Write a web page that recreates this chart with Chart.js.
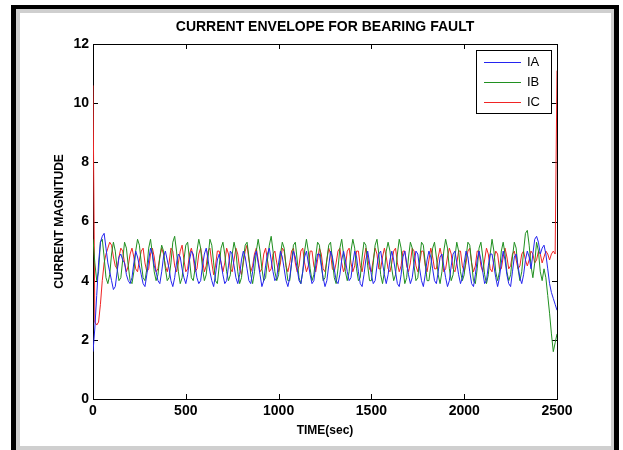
<!DOCTYPE html>
<html>
<head>
<meta charset="utf-8">
<script src="https://cdn.jsdelivr.net/npm/chart.js@4.4.1/dist/chart.umd.min.js"></script>
<style>
  html, body { margin: 0; padding: 0; background: #fff; }
  canvas { display: block; }
</style>
</head>
<body>
<canvas id="envolventeChart" width="623" height="450"></canvas>
<script>
// muestras cada 10 s, de 0 a 2500 s
const timeSec = Array.from({ length: 251 }, (_, i) => i * 10);

const xTickVals = [0, 500, 1000, 1500, 2000, 2500];
const yTickVals = [0, 2, 4, 6, 8, 10, 12];

const chartTitle = "CURRENT ENVELOPE FOR BEARING FAULT";
const seriesNames = ["IA", "IB", "IC"];
const seriesColors = ["#2424f0", "#209020", "#f02424"];

const ia = [
  1.6, 2.4, 3.5, 4.6, 5.3, 5.5, 5.6, 5.1, 4.6, 4.3,
  4.0, 3.7, 3.8, 4.3, 4.8, 4.9, 4.7, 4.6, 4.2, 4.0,
  3.9, 4.1, 4.6, 5.0, 4.8, 4.5, 4.2, 3.9, 3.8, 4.2,
  4.7, 5.1, 4.9, 4.5, 4.3, 4.0, 3.9, 4.3, 4.8, 5.0,
  4.7, 4.4, 4.0, 3.8, 4.1, 4.6, 4.9, 4.8, 4.4, 4.1,
  3.9, 4.2, 4.7, 5.0, 4.9, 4.5, 4.1, 3.9, 4.0, 4.5,
  4.9, 5.1, 4.7, 4.3, 4.0, 3.8, 4.2, 4.7, 4.9, 4.6,
  4.2, 3.9, 4.0, 4.5, 5.0, 4.9, 4.5, 4.1, 3.9, 4.2,
  4.7, 5.0, 4.8, 4.4, 4.0, 3.9, 4.3, 4.8, 5.0, 4.6,
  4.2, 3.8, 4.0, 4.5, 4.9, 5.1, 4.7, 4.3, 4.0, 4.1,
  4.6, 5.0, 4.8, 4.4, 4.0, 3.8, 4.1, 4.6, 5.0, 4.8,
  4.4, 4.0, 3.9, 4.3, 4.8, 5.0, 4.6, 4.2, 3.9, 4.0,
  4.5, 4.9, 4.9, 4.5, 4.1, 3.8, 4.0, 4.5, 5.0, 4.8,
  4.4, 4.0, 3.9, 4.2, 4.7, 5.0, 4.7, 4.3, 4.0, 4.1,
  4.6, 5.0, 4.8, 4.3, 3.9, 3.8, 4.2, 4.7, 5.0, 4.6,
  4.2, 3.9, 4.0, 4.5, 4.9, 5.0, 4.6, 4.2, 3.9, 4.2,
  4.7, 5.0, 4.7, 4.3, 3.9, 3.8, 4.2, 4.8, 5.0, 4.6,
  4.2, 3.9, 4.1, 4.6, 5.0, 4.9, 4.4, 4.0, 3.8, 4.2,
  4.7, 5.0, 4.8, 4.4, 4.0, 3.9, 4.3, 4.8, 4.9, 4.5,
  4.1, 3.8, 4.0, 4.5, 4.9, 5.0, 4.6, 4.2, 3.9, 4.1,
  4.6, 5.0, 4.8, 4.3, 3.9, 3.8, 4.2, 4.7, 5.0, 4.7,
  4.3, 3.9, 4.0, 4.5, 4.9, 4.9, 4.5, 4.1, 3.8, 4.1,
  4.6, 5.0, 4.7, 4.2, 3.9, 3.8, 4.3, 4.8, 4.9, 4.5,
  4.1, 3.9, 4.2, 4.7, 5.0, 4.8, 4.4, 4.9, 5.4, 5.5,
  5.3, 4.9, 5.1, 5.2, 4.9, 4.4, 3.9, 3.6, 3.4, 3.2,
  3.0
];

const ib = [
  5.4, 4.6, 4.0, 4.3, 5.3, 5.4, 4.8, 4.1, 3.9, 4.2,
  4.9, 5.3, 5.0, 4.4, 4.0, 4.1, 4.7, 5.3, 5.1, 4.5,
  4.0, 3.9, 4.3, 5.0, 5.4, 5.2, 4.6, 4.1, 4.0, 4.4,
  5.1, 5.4, 4.9, 4.3, 4.0, 4.2, 4.8, 5.2, 5.0, 4.4,
  4.0, 4.1, 4.6, 5.3, 5.5, 5.0, 4.3, 3.9, 4.1, 4.7,
  5.2, 5.3, 4.7, 4.1, 4.0, 4.4, 5.0, 5.4, 5.1, 4.4,
  4.0, 4.2, 4.8, 5.4, 5.2, 4.6, 4.0, 3.9, 4.5, 5.1,
  5.3, 4.9, 4.3, 4.0, 4.2, 4.9, 5.3, 5.0, 4.3, 3.9,
  4.1, 4.7, 5.2, 5.3, 4.8, 4.2, 3.9, 4.3, 5.0, 5.4,
  5.0, 4.4, 4.0, 4.1, 4.7, 5.2, 5.5, 5.0, 4.3, 4.0,
  4.2, 4.9, 5.3, 5.1, 4.5, 4.0, 4.0, 4.6, 5.2, 5.3,
  4.7, 4.1, 3.9, 4.3, 5.0, 5.4, 5.0, 4.4, 4.0, 4.2,
  4.8, 5.3, 5.2, 4.6, 4.0, 4.1, 4.7, 5.2, 5.3, 4.7,
  4.1, 3.9, 4.4, 5.1, 5.4, 4.9, 4.3, 4.0, 4.3, 5.0,
  5.4, 5.1, 4.4, 4.0, 4.1, 4.8, 5.3, 5.2, 4.5, 4.0,
  4.0, 4.6, 5.2, 5.4, 4.9, 4.2, 3.9, 4.3, 5.0, 5.3,
  5.0, 4.4, 4.0, 4.2, 4.9, 5.4, 5.1, 4.4, 3.9, 4.1,
  4.8, 5.3, 5.1, 4.5, 4.0, 4.1, 4.7, 5.3, 5.2, 4.6,
  4.0, 4.0, 4.5, 5.1, 5.3, 4.8, 4.2, 3.9, 4.3, 5.0,
  5.4, 5.1, 4.4, 4.0, 4.2, 4.8, 5.3, 5.0, 4.3, 4.0,
  4.2, 4.8, 5.3, 5.2, 4.6, 4.0, 3.9, 4.4, 5.1, 5.3,
  4.8, 4.2, 3.9, 4.2, 4.9, 5.4, 5.0, 4.3, 4.0, 4.3,
  5.0, 5.3, 4.9, 4.3, 4.0, 4.2, 4.8, 5.3, 5.1, 4.4,
  4.0, 4.3, 5.0, 5.6, 5.7, 5.2, 4.5, 4.1, 4.6, 5.3,
  5.0, 4.3, 4.0, 4.4, 4.1, 3.5, 2.9, 2.2, 1.6, 1.9,
  2.2
];

const ic = [
  10.6, 2.6, 2.5, 2.6, 3.2, 4.0, 4.6, 4.9, 5.1, 5.3,
  5.2, 4.8, 4.5, 4.4, 4.8, 5.1, 5.0, 4.6, 4.3, 4.5,
  4.9, 5.1, 4.8, 4.4, 4.3, 4.7, 5.0, 5.1, 4.6, 4.3,
  4.4, 4.9, 5.1, 4.8, 4.3, 4.4, 4.8, 5.1, 4.9, 4.5,
  4.3, 4.6, 5.1, 5.0, 4.5, 4.3, 4.6, 5.0, 5.2, 4.7,
  4.3, 4.4, 4.9, 5.1, 4.8, 4.3, 4.4, 4.9, 5.1, 4.7,
  4.3, 4.5, 5.0, 5.1, 4.6, 4.2, 4.5, 5.0, 5.0, 4.6,
  4.3, 4.6, 5.1, 4.9, 4.4, 4.3, 4.7, 5.1, 4.9, 4.4,
  4.2, 4.6, 5.0, 5.2, 4.7, 4.3, 4.5, 4.9, 5.1, 4.7,
  4.3, 4.4, 4.9, 5.1, 4.7, 4.3, 4.4, 4.9, 5.0, 4.6,
  4.3, 4.6, 5.1, 5.0, 4.5, 4.3, 4.6, 5.0, 5.1, 4.6,
  4.3, 4.5, 5.0, 5.1, 4.6, 4.3, 4.5, 5.0, 5.0, 4.5,
  4.3, 4.7, 5.1, 4.9, 4.4, 4.3, 4.7, 5.1, 4.9, 4.4,
  4.3, 4.6, 5.0, 5.1, 4.6, 4.3, 4.5, 5.0, 5.1, 4.6,
  4.3, 4.5, 5.0, 5.0, 4.5, 4.3, 4.7, 5.1, 4.8, 4.4,
  4.3, 4.7, 5.1, 4.9, 4.4, 4.4, 4.8, 5.1, 4.8, 4.4,
  4.3, 4.6, 5.0, 5.1, 4.6, 4.3, 4.5, 5.0, 5.0, 4.5,
  4.3, 4.6, 5.1, 5.0, 4.5, 4.3, 4.6, 5.0, 5.0, 4.5,
  4.3, 4.7, 5.1, 4.8, 4.4, 4.4, 4.8, 5.1, 4.8, 4.3,
  4.4, 4.8, 5.1, 4.9, 4.4, 4.3, 4.6, 5.0, 5.0, 4.5,
  4.3, 4.6, 5.0, 5.1, 4.6, 4.3, 4.5, 5.0, 5.0, 4.5,
  4.3, 4.7, 5.1, 4.9, 4.4, 4.3, 4.7, 5.0, 4.9, 4.4,
  4.4, 4.8, 5.1, 4.8, 4.4, 4.5, 4.9, 5.0, 4.7, 4.4,
  4.5, 4.9, 5.0, 4.7, 4.5, 4.7, 5.0, 4.9, 4.6, 4.7,
  5.0, 4.9, 4.6, 4.8, 5.0, 4.9, 4.7, 4.9, 5.0, 4.9,
  11.1
];

const FONT = "'Liberation Sans', Arial, sans-serif";

// Marco exterior, titulo, caja de ejes con marcas hacia adentro y leyenda
const marcoPlugin = {
  id: "marco",
  beforeDraw(chart) {
    const ctx = chart.ctx;
    const { left, right } = chart.chartArea;
    ctx.save();
    ctx.fillStyle = "#fff";
    ctx.fillRect(0, 0, chart.width, chart.height);
    ctx.fillStyle = "#000";
    ctx.fillRect(11, 5, 608, 445);
    ctx.fillStyle = "#cfcfcf";
    ctx.fillRect(16, 9, 598, 441);
    ctx.fillStyle = "#fff";
    ctx.fillRect(20, 13, 591, 433);
    // titulo centrado sobre los ejes
    ctx.fillStyle = "#000";
    ctx.font = "bold 14px " + FONT;
    ctx.textAlign = "center";
    ctx.textBaseline = "middle";
    ctx.fillText(chartTitle, (left + right) / 2, 27);
    ctx.restore();
  },
  beforeDatasetsDraw(chart) {
    const ctx = chart.ctx;
    const { left, right, top, bottom } = chart.chartArea;
    const sx = chart.scales.x, sy = chart.scales.y;
    ctx.save();
    ctx.strokeStyle = "#000";
    ctx.lineWidth = 1;
    ctx.strokeRect(left + 0.5, top + 0.5, right - left, bottom - top);
    ctx.beginPath();
    xTickVals.forEach(v => {
      const x = Math.round(sx.getPixelForValue(v)) + 0.5;
      ctx.moveTo(x, bottom); ctx.lineTo(x, bottom - 5);
      ctx.moveTo(x, top); ctx.lineTo(x, top + 5);
    });
    yTickVals.forEach(v => {
      const y = Math.round(sy.getPixelForValue(v)) + 0.5;
      ctx.moveTo(left, y); ctx.lineTo(left + 5, y);
      ctx.moveTo(right, y); ctx.lineTo(right - 5, y);
    });
    ctx.stroke();
    ctx.restore();
  },
  afterDatasetsDraw(chart) {
    const ctx = chart.ctx;
    const bx = 476, by = 50, bw = 75, bh = 63;
    ctx.save();
    ctx.fillStyle = "#fff";
    ctx.fillRect(bx, by, bw, bh);
    ctx.strokeStyle = "#000";
    ctx.lineWidth = 1;
    ctx.strokeRect(bx + 0.5, by + 0.5, bw, bh);
    ctx.font = "13px " + FONT;
    ctx.textBaseline = "middle";
    chart.data.datasets.forEach((ds, i) => {
      const y = by + 12.5 + i * 20;
      ctx.strokeStyle = ds.borderColor;
      ctx.beginPath();
      ctx.moveTo(484, y); ctx.lineTo(521, y);
      ctx.stroke();
      ctx.fillStyle = "#000";
      ctx.fillText(ds.label, 527, y);
    });
    ctx.restore();
  }
};

const aPuntos = arr => arr.map((v, i) => ({ x: timeSec[i], y: v }));

new Chart(document.getElementById("envolventeChart").getContext("2d"), {
  type: "line",
  data: {
    datasets: [ia, ib, ic].map((arr, i) => ({
      label: seriesNames[i],
      data: aPuntos(arr),
      borderColor: seriesColors[i],
      borderWidth: 1,
      pointRadius: 0,
      tension: 0,
      fill: false
    }))
  },
  options: {
    responsive: false,
    animation: false,
    events: [],
    layout: { padding: { left: 49, right: 66, top: 44, bottom: 11 } },
    plugins: {
      legend: { display: false },
      tooltip: { enabled: false },
      title: { display: false }
    },
    scales: {
      x: {
        type: "linear",
        min: 0,
        max: 2500,
        grid: { display: false, drawTicks: false },
        border: { display: false },
        afterBuildTicks: s => { s.ticks = xTickVals.map(v => ({ value: v })); },
        afterFit: s => { s.height = 40; },
        ticks: {
          color: "#000",
          maxRotation: 0,
          autoSkip: false,
          padding: 4,
          callback: v => String(v),
          font: { family: FONT, size: 14, weight: "bold" }
        },
        title: {
          display: true,
          text: "TIME(sec)",
          color: "#000",
          font: { family: FONT, size: 12, weight: "bold" },
          padding: { top: 0, bottom: 1 }
        }
      },
      y: {
        min: 0,
        max: 12,
        grid: { display: false, drawTicks: false },
        border: { display: false },
        afterBuildTicks: s => { s.ticks = yTickVals.map(v => ({ value: v })); },
        afterFit: s => { s.width = 44; },
        ticks: {
          color: "#000",
          padding: 4,
          callback: v => String(v),
          font: { family: FONT, size: 14, weight: "bold" }
        },
        title: {
          display: true,
          text: "CURRENT MAGNITUDE",
          color: "#000",
          font: { family: FONT, size: 12, weight: "bold" },
          padding: { top: 3, bottom: 0 }
        }
      }
    }
  },
  plugins: [marcoPlugin]
});
</script>
</body>
</html>
